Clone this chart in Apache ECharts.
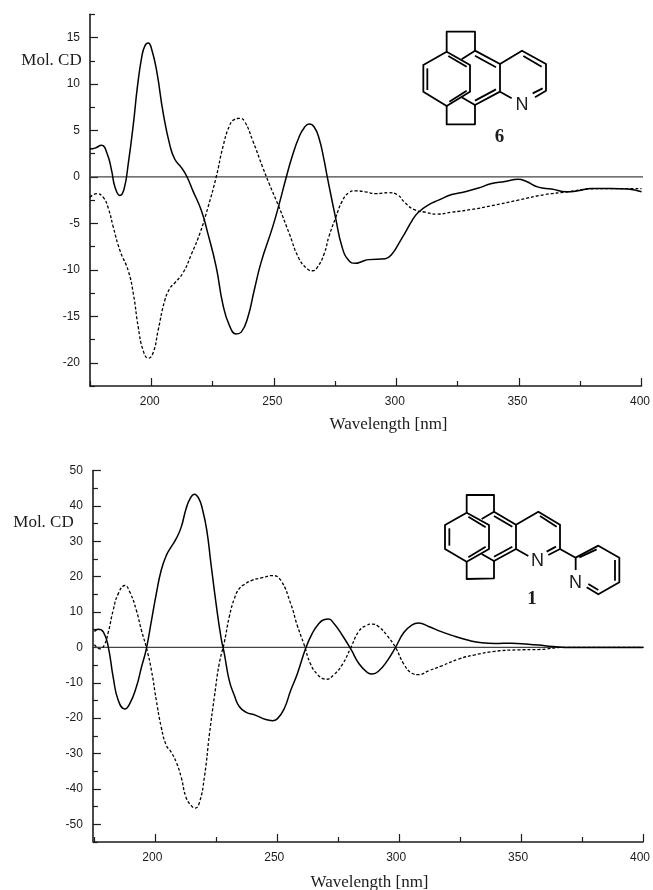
<!DOCTYPE html>
<html><head><meta charset="utf-8">
<style>html,body{margin:0;padding:0;background:#fff}#c{width:653px;height:890px}</style>
<script src="https://cdn.jsdelivr.net/npm/echarts@6/dist/echarts.min.js"></script>
</head><body><div id="c"></div>
<script>
// Wavelength [nm], Mol. CD
const solid6 = [[175,3.0],[177,3.1],[179.7,3.4],[182,2.5],[183.8,0.7],[185.2,-1.1],[187.2,-2.0],[188.9,-1.3],[190.6,1.4],[192.7,5.7],[194.3,9.6],[196.1,12.9],[197.4,14.1],[198.8,14.4],[200.1,13.8],[202.2,11.4],[204.9,6.8],[207.6,3.4],[209.6,1.9],[212.3,1.0],[214.4,0.1],[217,-1.5],[220.4,-3.6],[223.1,-6.1],[226.5,-9.7],[229.2,-13.7],[231.9,-16],[234.6,-16.9],[236.7,-16.7],[239.4,-15.1],[242,-12.2],[244.8,-9.2],[249.5,-5.4],[252.2,-2.9],[254.9,-0.2],[257.6,2.3],[260.3,4.3],[262.4,5.3],[264.4,5.7],[266.4,5.4],[268.5,4.1],[270.5,1.8],[271.8,0],[275.2,-4.4],[277.9,-7.6],[280.6,-9],[283.3,-9.3],[286,-9.1],[288.7,-8.9],[295.5,-8.8],[298.2,-8.3],[300.9,-7.2],[303.6,-6],[306.4,-4.7],[309,-3.8],[313.1,-3],[317.2,-2.5],[322.6,-1.9],[328,-1.6],[333.5,-1.2],[338.9,-0.7],[344.3,-0.5],[349.7,-0.25],[353.1,-0.5],[357.9,-1.1],[363.3,-1.3],[369.4,-1.6],[374.1,-1.5],[379.6,-1.25],[387.7,-1.25],[394.5,-1.3],[400,-1.6]];
const dashed6 = [[175,-2.2],[177.7,-1.8],[180.4,-2.2],[182.5,-3.4],[184.5,-5.4],[187.2,-7.9],[190.6,-10.1],[192.7,-12.6],[194.7,-16.2],[196.7,-18.7],[198.8,-19.5],[200.8,-18.9],[202.8,-16.5],[205.5,-13.3],[207.6,-12],[209.6,-11.4],[213,-10.3],[216.4,-8.3],[219.8,-6.1],[223.1,-3.3],[226.5,0],[229.2,3.2],[231.9,5.5],[234,6.2],[236,6.3],[238,6],[241.4,3.9],[245.5,1],[248.2,-0.8],[252.2,-3.3],[256.3,-6.1],[260.3,-8.8],[263.7,-9.9],[265.8,-10.1],[267.8,-9.7],[270.5,-8.3],[272.5,-6.4],[275.2,-4.4],[277.9,-2.6],[280.6,-1.7],[283.3,-1.5],[287.4,-1.6],[291.5,-1.8],[296.9,-1.7],[300.3,-1.9],[303.6,-2.8],[307.1,-3.5],[311.8,-3.8],[316.5,-4],[322.6,-3.8],[330.8,-3.5],[338.9,-3.1],[349.7,-2.5],[360.6,-1.9],[370.1,-1.6],[378.3,-1.3],[387.7,-1.25],[395.8,-1.25],[400,-1.25]];
const solid1 = [[175,4.5],[176.6,5.1],[178.7,4.3],[180.7,0.1],[182.7,-8.4],[184.8,-15],[187.5,-17.4],[189.5,-15.9],[192.2,-11.2],[194.3,-5.6],[196.3,-0.4],[198.4,7.6],[200.4,15.2],[202.4,21.8],[204.5,26],[206.5,28.4],[208.6,30.8],[210.6,34],[212.6,39.2],[214.3,42.1],[216,43.3],[217.8,42.1],[219.4,38.8],[221.1,33.1],[222.8,23.7],[224.9,12.4],[226.9,2.9],[228.3,-1.8],[230.3,-9.3],[232.4,-13.6],[234.4,-16.7],[237.1,-18.3],[241.2,-19.2],[245.3,-20.4],[248,-20.7],[250,-20.2],[252.8,-17.4],[255.5,-12.2],[258.2,-7.5],[261.6,-0.4],[264.3,3.9],[267,6.7],[269.1,7.8],[271,8],[273.4,6.6],[276.8,3.3],[280.2,-0.5],[283.6,-4.7],[287,-7.1],[289,-7.5],[291.7,-6.6],[295.1,-3.8],[298.5,0],[301.9,4.2],[305.3,6.4],[308,6.9],[312.1,5.9],[317.5,4.4],[323,3.1],[328.4,2],[333.9,1.3],[339.3,1.1],[346.1,1.2],[352.9,0.9],[359.7,0.5],[367.8,0],[400,0]];
const dashed1 = [[175,0.8],[177.3,-0.4],[179,0.6],[180.7,4.3],[182.7,10.5],[184.8,15.2],[187.5,17.5],[189.5,15.7],[192.2,10.5],[194.3,4.8],[196.3,0],[198.4,-6.5],[200.4,-15],[202.4,-22.5],[204.5,-27.7],[206.5,-29.6],[208.6,-32.5],[210.6,-36.7],[212.6,-42.4],[214.7,-44.7],[216.3,-45.4],[218.1,-43.8],[220.1,-36.7],[222.2,-24.4],[224.2,-14],[226.2,-4.6],[228.3,1.5],[230.3,8.6],[232.4,13.8],[234.4,16.6],[236.5,17.8],[239.8,19],[243.9,19.7],[248,20.3],[251.4,19],[255.5,12.4],[258.2,6.2],[260.9,1],[263.6,-4.6],[266.3,-7.5],[269.1,-8.9],[270,-9],[273.4,-7.6],[276.8,-4.7],[280.2,0],[283.6,4.7],[286.3,6.1],[289,6.6],[291.7,5.8],[295.1,3.3],[298.5,0],[301.9,-4.7],[305.3,-7.3],[308,-7.7],[312.1,-6.6],[317.5,-5.2],[324.3,-3.3],[331.1,-2.1],[339.3,-1.1],[348.8,-0.7],[357,-0.6],[367.8,0],[400,0]];
const zero6 = [[175,0],[401.2,0]];
const zero1 = [[175,0],[403,0]];
const xMajor = [200,250,300,350,400];
const xMinor = [175,225,275,325,375];
const y6Major = [15,10,5,0,-5,-10,-15,-20];
const y6Minor = [17.5,12.5,7.5,2.5,-2.5,-7.5,-12.5,-17.5,-22.5];
const y1Major = [50,40,30,20,10,0,-10,-20,-30,-40,-50];
const y1Minor = [45,35,25,15,5,-5,-15,-25,-35,-45,-55];

const INK = '#1c1c1c';
const grids = [
  {left:90, width:553.5, top:14.3, height:371.7},
  {left:94.4, width:551.6, top:470.5, height:371.5}
];
function xPair(g){
  const base = {gridIndex:g,type:'value',min:175,max:400,position:'bottom',splitLine:{show:false}};
  return [
    {...base,axisLine:{onZero:false,lineStyle:{color:INK,width:1.6}},
      axisTick:{show:true,inside:true,length:8,customValues:xMajor,lineStyle:{color:INK,width:1.2}},
      axisLabel:{show:true,customValues:xMajor,margin:10,fontFamily:'Liberation Sans',fontSize:12,color:INK,padding:[0,g?6:3,0,0]}},
    {...base,axisLine:{show:false,onZero:false},
      axisTick:{show:true,inside:true,length:5,customValues:xMinor,lineStyle:{color:INK,width:1.2}},
      axisLabel:{show:false}}
  ];
}
function yPair(g,min,max,major,minor,off){
  const base = {gridIndex:g,type:'value',min,max,position:'left',offset:off,splitLine:{show:false}};
  return [
    {...base,axisLine:{onZero:false,lineStyle:{color:INK,width:1.6}},
      axisTick:{show:true,inside:true,length:8,customValues:major,lineStyle:{color:INK,width:1.2}},
      axisLabel:{show:true,customValues:major,margin:10,fontFamily:'Liberation Sans',fontSize:12,color:INK}},
    {...base,axisLine:{show:false,onZero:false},
      axisTick:{show:true,inside:true,length:5,customValues:minor,lineStyle:{color:INK,width:1.2}},
      axisLabel:{show:false}}
  ];
}
function ser(name,data,xi,yi,kind){
  const ls = kind==='solid'?{color:'#000',width:1.5,type:'solid'}:
             kind==='dash'?{color:'#000',width:1.3,type:[3,2]}:{color:'#444',width:1.1,type:'solid'};
  return {name,type:'line',xAxisIndex:xi,yAxisIndex:yi,data,showSymbol:false,symbol:'none',
    smooth:kind==='zero'?false:0.5,clip:false,lineStyle:ls,z:kind==='zero'?1:2,silent:true};
}

// molecule sketches: polylines in page pixels
const bondW = 1.8;
function pl(ox,oy,list){
  return list.map(p=>({type:'polyline',silent:true,
    shape:{points:p.map(q=>[ox+q[0]/3,oy+q[1]/3])},
    style:{stroke:'#000',lineWidth:bondW,fill:null,lineJoin:'round'}}));
}
const mol6 = [
 [[380,155],[380,95],[465,95],[465,152]],
 [[380,155],[310,195],[310,275],[380,318],[450,275],[450,195],[380,155]],
 [[385,168],[440,200]],[[322,205],[322,270]],[[388,305],[440,272]],
 [[425,178],[465,152],[540,192],[540,275],[465,315],[425,292]],
 [[465,167],[528,202]],[[465,302],[528,268]],
 [[540,192],[606,152],[678,192],[678,272],[645,292]],
 [[610,168],[665,200]],[[638,280],[668,265]],
 [[540,275],[575,295]],
 [[380,318],[380,373],[465,373],[465,315]]
];
const mol1 = [
 [[440,188],[440,135],[522,135],[522,185]],
 [[440,188],[375,225],[375,297],[440,335],[507,297],[507,225],[440,188]],
 [[445,200],[497,232]],[[388,235],[388,287]],[[445,322],[497,290]],
 [[485,207],[522,185],[588,224],[588,297],[522,333],[485,312]],
 [[522,198],[577,230]],[[522,320],[577,290]],
 [[588,224],[655,185],[720,224],[720,297],[685,315]],
 [[660,198],[710,230]],[[680,305],[708,290]],
 [[588,297],[625,318]],
 [[440,335],[440,387],[522,385],[522,333]],
 [[720,297],[767,323],[767,360]],
 [[767,323],[835,287],[898,323],[898,397],[835,433],[800,412]],
 [[778,322],[830,298]],[[885,330],[885,392]],[[835,420],[805,402]]
];
function txt(text,x,y,font,size,weight){
  return {type:'text',silent:true,x,y,style:{text,fontFamily:font,fontSize:size,fontWeight:weight||'normal',fill:INK,textVerticalAlign:'middle',textAlign:'center'}};
}
const graphics = [
  ...pl(320,0,mol6), ...pl(320,450,mol1),
  txt('N',522,105,'Liberation Sans',18),
  txt('6',499.5,137,'Liberation Serif',19,'bold'),
  txt('N',537.5,561,'Liberation Sans',18),
  txt('N',575.5,583,'Liberation Sans',18),
  txt('1',532,599.5,'Liberation Serif',19,'bold'),
  txt('Mol. CD',51.5,61,'Liberation Serif',17),
  txt('Wavelength [nm]',388.5,425,'Liberation Serif',17),
  txt('Mol. CD',43.5,522.5,'Liberation Serif',17),
  txt('Wavelength [nm]',369.5,883,'Liberation Serif',17)
];

const chart = echarts.init(document.getElementById('c'),null,{renderer:'canvas'});
chart.setOption({
  animation:false,backgroundColor:'#fff',
  grid:grids,
  xAxis:[...xPair(0),...xPair(1)],
  yAxis:[...yPair(0,-22.5,17.5,y6Major,y6Minor,0),...yPair(1,-55,50,y1Major,y1Minor,1.5)],
  series:[
    ser('baseline 6',zero6,0,0,'zero'),
    ser('CD 6 solid',solid6,0,0,'solid'),
    ser('CD 6 dashed',dashed6,0,0,'dash'),
    ser('baseline 1',zero1,2,2,'zero'),
    ser('CD 1 solid',solid1,2,2,'solid'),
    ser('CD 1 dashed',dashed1,2,2,'dash')
  ],
  graphic:graphics
});
</script></body></html>
